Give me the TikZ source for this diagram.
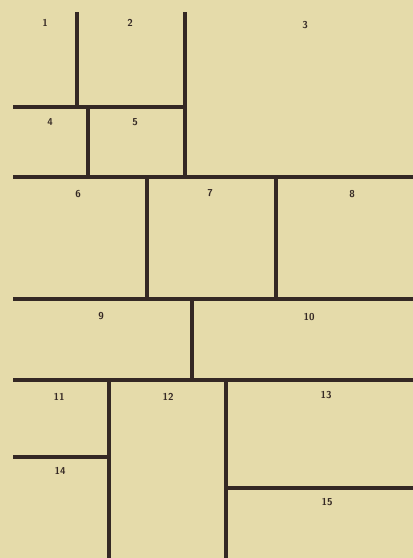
\documentclass[tikz,border=0pt]{standalone}
\usepackage{xcolor}
\usepackage{tikz}
\usetikzlibrary{positioning}

\definecolor{paper}{RGB}{229,219,170}
\definecolor{ink}{RGB}{52,40,36}

\begin{document}
\begin{tikzpicture}[x=1pt, y=-1pt, line width=3.2pt,
    wall/.style={draw=ink, line cap=butt},
    num/.style={font=\fontsize{10}{11}\sffamily\bfseries, text=ink}]

  % page
  \fill[paper] (0,0) rectangle (413,558);
  \useasboundingbox (0,0) rectangle (413,558);

  % top rows
  \draw[wall] (77,12) -- (77,107);
  \draw[wall] (185,12) -- (185,177);
  \draw[wall] (13,107) -- (185,107);
  \draw[wall] (88,107) -- (88,177);
  \draw[wall] (13,177) -- (413,177);

  % middle rows
  \draw[wall] (147,177) -- (147,299);
  \draw[wall] (276,177) -- (276,299);
  \draw[wall] (13,299) -- (413,299);
  \draw[wall] (192,299) -- (192,380);
  \draw[wall] (13,380) -- (413,380);

  % bottom rows
  \draw[wall] (109,380) -- (109,558);
  \draw[wall] (226,380) -- (226,558);
  \draw[wall] (13,457) -- (109,457);
  \draw[wall] (226,488) -- (413,488);

  % numbers
  \node[num] (n1) at (45,23) {1};
  \node[num] (n2) at (130,23) {2};
  \node[num] (n3) at (305,25) {3};
  \node[num] (n4) at (50,122) {4};
  \node[num] (n5) at (135,122) {5};
  \node[num] (n6) at (78,194) {6};
  \node[num] (n7) at (210,193) {7};
  \node[num] (n8) at (352,194) {8};
  \node[num] (n9) at (101,316) {9};
  \node[num] (n10) at (309,317) {10};
  \node[num] (n11) at (59,397) {11};
  \node[num] (n12) at (168,397) {12};
  \node[num] (n13) at (326,395) {13};
  \node[num] (n14) at (60,471) {14};
  \node[num] (n15) at (327,502) {15};

\end{tikzpicture}
\end{document}
